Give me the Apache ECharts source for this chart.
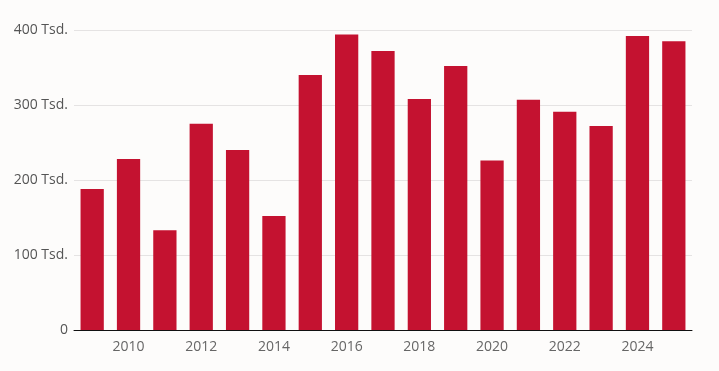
<!DOCTYPE html>
<html><head><meta charset="utf-8">
<script src="https://cdn.jsdelivr.net/npm/echarts@6/dist/echarts.min.js"></script>
<style>html,body{margin:0;padding:0;background:#fdfcfb}#c{width:719px;height:371px}</style>
</head><body><div id="c"></div>
<script>
const years = ['2009','2010','2011','2012','2013','2014','2015','2016','2017','2018','2019','2020','2021','2022','2023','2024','2025'];
const values = [188,228,133,275,240,152,340,394,372,308,352,226,307,291,272,392,385];
const yTicks = [0,100,200,300,400];

const chart = echarts.init(document.getElementById('c'));
chart.setOption({
  backgroundColor: '#fdfcfb',
  animation: false,
  grid: {left: 74, right: 27, top: 30, bottom: 41},
  xAxis: {
    type: 'category', data: years,
    axisLine: {lineStyle: {color: '#111', width: 1}},
    axisTick: {show: false},
    axisLabel: {interval: (i) => i % 2 === 1, color: '#666', fontSize: 14, fontFamily: 'Open Sans', margin: 10}
  },
  yAxis: {
    type: 'value', min: 0, max: 400, interval: 100,
    axisLine: {show: false}, axisTick: {show: false},
    splitLine: {lineStyle: {color: '#e5e3e3', width: 1}},
    axisLabel: {color: '#555', fontSize: 14, fontFamily: 'Open Sans', margin: 6,
      formatter: (v) => v === 0 ? '0' : v + ' Tsd.'}
  },
  series: [{
    type: 'bar', data: values, barWidth: '64%',
    itemStyle: {color: '#c41230'}
  }]
});
</script></body></html>
